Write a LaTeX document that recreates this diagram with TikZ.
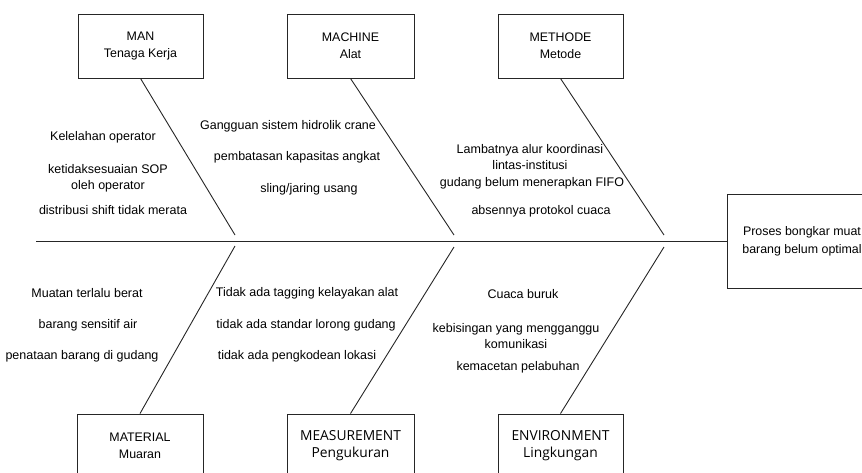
\documentclass[tikz,border=0pt]{standalone}
\usepackage{fontspec}
\setmainfont{Liberation Sans}
\newfontfamily\segoe{Open Sans}
\begin{document}
\begin{tikzpicture}[x=1pt,y=-1pt,
  bone/.style={draw=black!85, line width=0.9pt},
  catbox/.style={draw=black!85, line width=0.9pt, rectangle, minimum height=64pt, align=center, inner sep=0pt, font=\fontsize{12.4}{17}\selectfont},
  catboxb/.style={catbox, font=\segoe\fontsize{13.8}{17}\selectfont},
  cause/.style={align=center, inner sep=0pt, font=\fontsize{12.5}{16}\selectfont}
]
\useasboundingbox (0,0) rectangle (862,472);
\begin{scope}
\clip (0,0) rectangle (862,472);
% category boxes
\node[catbox, minimum width=125pt] (man) at (140.5,46) {MAN\\Tenaga Kerja};
\node[catbox, minimum width=127pt] (machine) at (350.5,46) {MACHINE\\Alat};
\node[catbox, minimum width=125pt] (methode) at (560.5,46) {METHODE\\Metode};
\node[catbox, minimum width=126pt] (material) at (140,446) {MATERIAL\\Muaran};
\node[catboxb, minimum width=127pt] (measurement) at (350.5,446) {MEASUREMENT\\Pengukuran};
\node[catboxb, minimum width=125pt] (environment) at (560.5,446) {ENVIRONMENT\\Lingkungan};
% effect
\node[draw=black!85, line width=0.9pt, rectangle, minimum width=150pt, minimum height=94pt, align=center, inner sep=0pt, font=\fontsize{12.4}{18}\selectfont] (effect) at (802,241) {Proses bongkar muat\\barang belum optimal};
% spine
\coordinate (spinestart) at (36,241);
\draw[bone] (spinestart) -- (effect.west);
% bones
\coordinate (manend) at (235,235);
\coordinate (machineend) at (454,235);
\coordinate (methodeend) at (664,235);
\coordinate (materialend) at (235,246);
\coordinate (measurementend) at (454,247);
\coordinate (environmentend) at (664,247);
\draw[bone] (man.south) -- (manend);
\draw[bone] (machine.south) -- (machineend);
\draw[bone] (methode.south) -- (methodeend);
\draw[bone] (material.north) -- (materialend);
\draw[bone] (measurement.north) -- (measurementend);
\draw[bone] (environment.north) -- (environmentend);
% causes MAN
\node[cause] (m1) at (103,137) {Kelelahan operator};
\node[cause] (m2) at (108,178) {ketidaksesuaian SOP\\oleh operator};
\node[cause] (m3) at (113,210) {distribusi shift tidak merata};
% MACHINE
\node[cause] (a1) at (288,126) {Gangguan sistem hidrolik crane};
\node[cause] (a2) at (297,157) {pembatasan kapasitas angkat};
\node[cause] (a3) at (309,189) {sling/jaring usang};
% METHODE
\node[cause] (d1) at (530,157.5) {Lambatnya alur koordinasi\\lintas-institusi};
\node[cause] (d2) at (532,183) {gudang belum menerapkan FIFO};
\node[cause] (d3) at (541,211) {absennya protokol cuaca};
% MATERIAL
\node[cause] (t1) at (87,293) {Muatan terlalu berat};
\node[cause] (t2) at (88,325) {barang sensitif air};
\node[cause] (t3) at (82,356) {penataan barang di gudang};
% MEASUREMENT
\node[cause] (s1) at (307,293) {Tidak ada tagging kelayakan alat};
\node[cause] (s2) at (306,325) {tidak ada standar lorong gudang};
\node[cause] (s3) at (297,356) {tidak ada pengkodean lokasi};
% ENVIRONMENT
\node[cause] (e1) at (523,294) {Cuaca buruk};
\node[cause] (e2) at (516,336.5) {kebisingan yang mengganggu\\komunikasi};
\node[cause] (e3) at (518,367) {kemacetan pelabuhan};
\end{scope}
\end{tikzpicture}
\end{document}
